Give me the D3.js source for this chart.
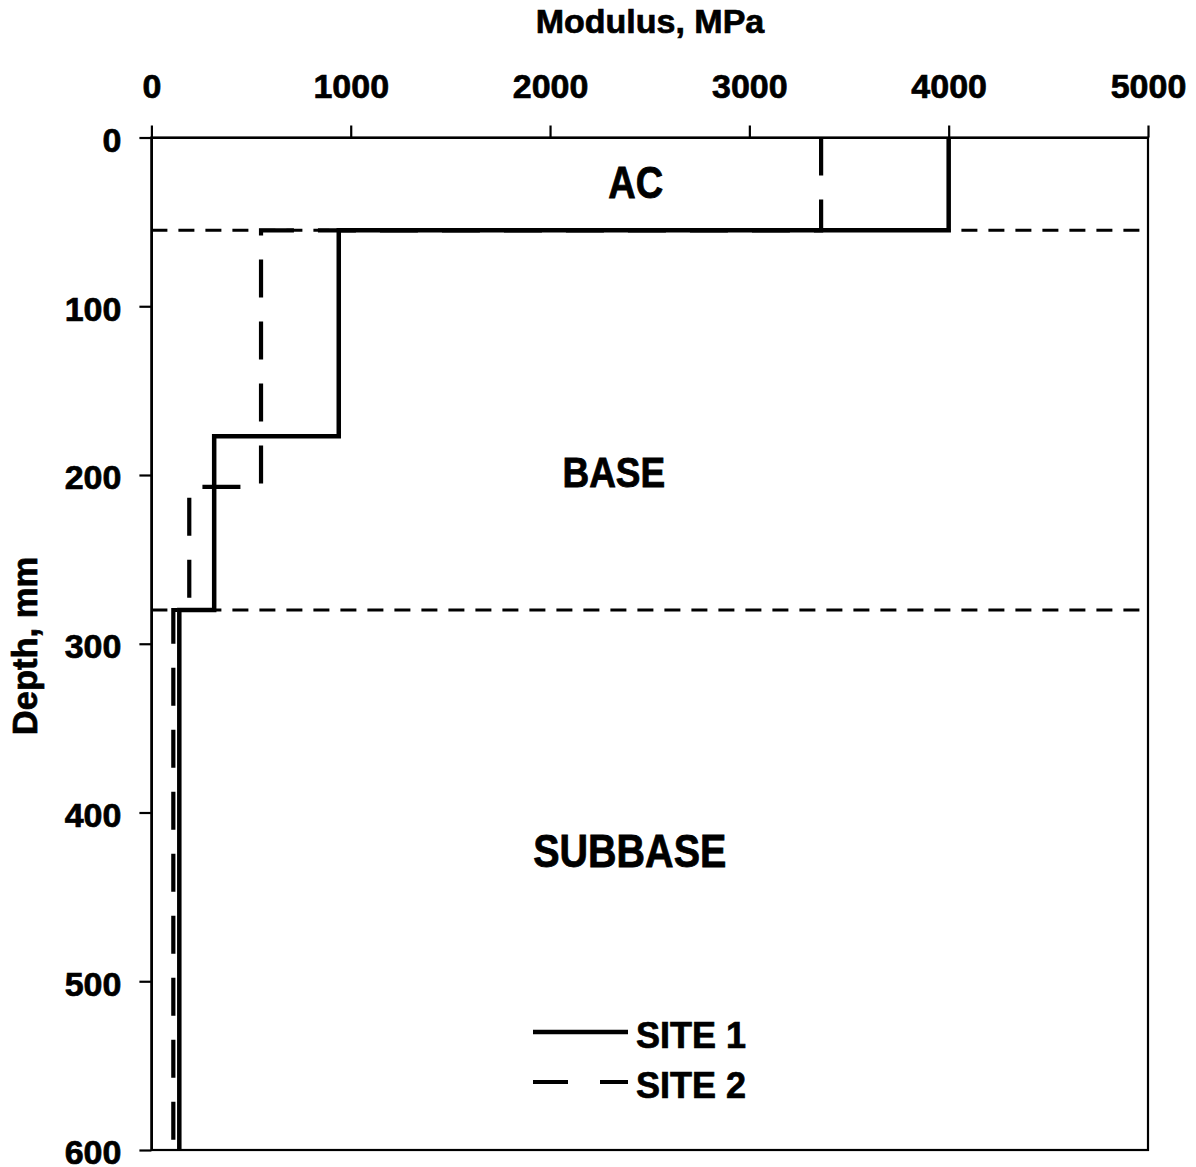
<!DOCTYPE html>
<html><head><meta charset="utf-8">
<script src="https://cdn.jsdelivr.net/npm/d3@7"></script>
<style>body{margin:0;background:#fff}svg{display:block}text{font-family:"Liberation Sans",Arial,sans-serif;font-weight:bold;fill:#000;stroke:#000;stroke-width:0.7px}</style>
</head><body>
<script>
// Data
const xTicks = [0, 1000, 2000, 3000, 4000, 5000];
const yTicks = [0, 100, 200, 300, 400, 500, 600];
const site1Depth = [0, 55, 55, 177, 177, 280, 280, 600];
const site1Mod   = [4000, 4000, 940, 940, 315, 315, 140, 140];
const site2Depth = [0, 55, 55, 207, 207, 280, 280, 600];
const site2Mod   = [3360, 3360, 550, 550, 190, 190, 110, 110];
const layerBounds = [55, 280];
const layerNames = ["AC", "BASE", "SUBBASE"];
const layerLabelDepth = [36, 207, 432];
const layerLabelMod = [2430, 2320, 2400];
const seriesNames = ["SITE 1", "SITE 2"];

const W = 1196, H = 1167;
const svg = d3.select("body").append("svg").attr("width", W).attr("height", H);
const x = d3.scaleLinear().domain([0, 5000]).range([151.4, 1148]);
const y = d3.scaleLinear().domain([0, 600]).range([137.5, 1150]);

// frame
svg.append("rect").attr("x", x(0)).attr("y", y(0)).attr("width", x(5000) - x(0)).attr("height", y(600) - y(0))
  .attr("fill", "none").attr("stroke", "#000").attr("stroke-width", 2.2);

// axes
const gx = svg.append("g").attr("transform", `translate(0,${y(0)})`)
  .call(d3.axisTop(x).tickValues(xTicks).tickFormat(d3.format("d")).tickSize(12).tickSizeOuter(0).tickPadding(28));
const gy = svg.append("g").attr("transform", `translate(${x(0)},0)`)
  .call(d3.axisLeft(y).tickValues(yTicks).tickFormat(d3.format("d")).tickSize(12).tickSizeOuter(0).tickPadding(18));
[gx, gy].forEach(g => {
  g.select(".domain").attr("stroke", "#000").attr("stroke-width", 2.2);
  g.selectAll(".tick line").attr("stroke", "#000").attr("stroke-width", 2.2);
  g.selectAll(".tick text").style("font-size", "34px").attr("font-family", null);
});
gy.selectAll(".tick text").attr("dy", "0.41em");
gx.selectAll(".tick text").attr("dy", "0em");

// layer boundary dashed lines
svg.selectAll(".bound").data(layerBounds).enter().append("line")
  .attr("x1", x(0)).attr("x2", x(5000)).attr("y1", d => y(d)).attr("y2", d => y(d))
  .attr("stroke", "#000").attr("stroke-width", 3).attr("stroke-dasharray", "16,11");

// series
const line = d3.line().x(d => x(d[0])).y(d => y(d[1]));
const s1 = site1Mod.map((m, i) => [m, site1Depth[i]]);
const s2 = site2Mod.map((m, i) => [m, site2Depth[i]]);
svg.append("path").attr("d", line(s2)).attr("fill", "none").attr("stroke", "#000")
  .attr("stroke-width", 4.2).attr("stroke-dasharray", "38,24");
svg.append("path").attr("d", line(s1)).attr("fill", "none").attr("stroke", "#000")
  .attr("stroke-width", 4.5);

// layer labels
const labelSizes = [38, 37, 39.5];
layerNames.forEach((n, i) => {
  svg.append("g").attr("transform", `translate(${x(layerLabelMod[i])},${y(layerLabelDepth[i])}) scale(1,1.15)`)
    .append("text").attr("text-anchor", "middle").style("font-size", labelSizes[i] + "px").text(n);
});

// titles
svg.append("text").attr("x", 650).attr("y", 33).attr("text-anchor", "middle").style("font-size", "34px").text("Modulus, MPa");
svg.append("text").attr("transform", "translate(37,646) rotate(-90)").attr("text-anchor", "middle").style("font-size", "34.5px").text("Depth, mm");

// legend
const leg = svg.append("g");
leg.append("line").attr("x1", 533).attr("x2", 628).attr("y1", 1032).attr("y2", 1032).attr("stroke", "#000").attr("stroke-width", 4.5);
leg.append("line").attr("x1", 533).attr("x2", 628).attr("y1", 1082).attr("y2", 1082).attr("stroke", "#000").attr("stroke-width", 4.2).attr("stroke-dasharray", "35,32");
leg.selectAll(".lt").data(seriesNames).enter().append("text")
  .attr("x", 636).attr("y", (d, i) => 1048 + i * 50).style("font-size", "36px").text(d => d);
</script>
</body></html>
